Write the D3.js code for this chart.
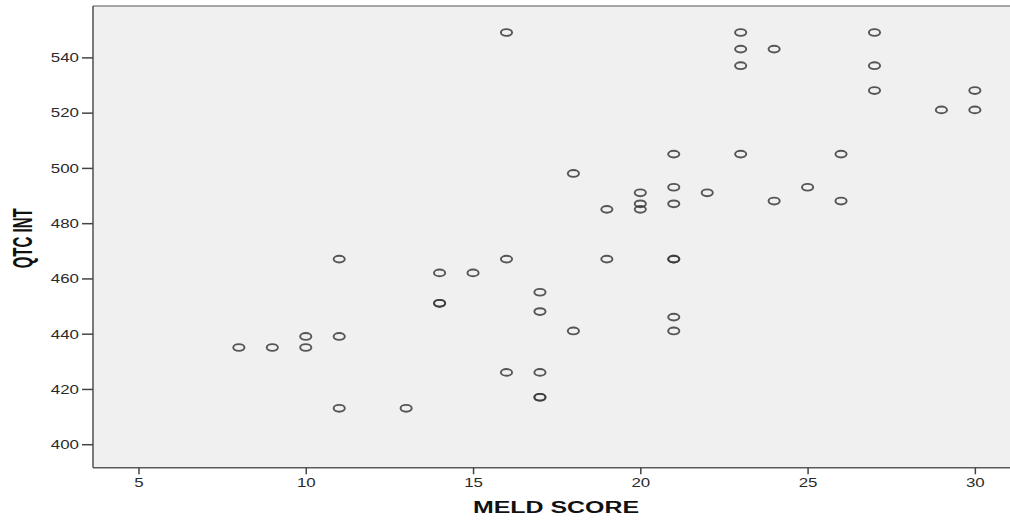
<!DOCTYPE html>
<html>
<head>
<meta charset="utf-8">
<script src="https://cdn.jsdelivr.net/npm/d3@7"></script>
<style>
  body { margin: 0; background: #fff; }
  svg { display: block; }
</style>
</head>
<body>
<svg id="chart" width="1010" height="520"></svg>
<script>
// MELD score vs QTc interval, one entry per patient
const meld = [8, 9, 10, 10, 11, 11, 11, 13, 14, 14, 14, 15,
  16, 16, 16, 17, 17, 17, 17, 17, 18, 18, 19, 19,
  20, 20, 20, 21, 21, 21, 21, 21, 21, 21, 22,
  23, 23, 23, 23, 24, 24, 25, 26, 26, 27, 27, 27, 29, 30, 30];
const qtc = [435, 435, 439, 435, 467, 439, 413, 413, 462, 451, 451, 462,
  549, 467, 426, 455, 448, 426, 417, 417, 498, 441, 485, 467,
  491, 487, 485, 505, 493, 487, 467, 467, 446, 441, 491,
  549, 543, 537, 505, 543, 488, 493, 505, 488, 549, 537, 528, 521, 528, 521];
const xTicks = [5, 10, 15, 20, 25, 30];
const yTicks = [400, 420, 440, 460, 480, 500, 520, 540];

const svg = d3.select('#chart');
const pLeft = 93, pTop = 6, pRight = 1015, pBottom = 467.7;

const x = d3.scaleLinear().domain([3.64, 31.2]).range([pLeft, pRight]);
const y = d3.scaleLinear().domain([391.5, 558.6]).range([pBottom, pTop]);

// plot background + top border
svg.append('rect')
  .attr('x', pLeft).attr('y', pTop)
  .attr('width', pRight - pLeft).attr('height', pBottom - pTop)
  .attr('fill', '#f0f0f0');
svg.append('line')
  .attr('x1', pLeft).attr('x2', pRight)
  .attr('y1', pTop).attr('y2', pTop)
  .attr('stroke', '#8a8a8a').attr('stroke-width', 1.5);

const stretch = (sel, k) => sel.each(function () {
  const len = this.getComputedTextLength();
  d3.select(this).attr('textLength', len * k).attr('lengthAdjust', 'spacingAndGlyphs');
});

const xAxis = svg.append('g')
  .attr('transform', `translate(0,${pBottom})`)
  .call(d3.axisBottom(x).tickValues(xTicks).tickSize(6.6).tickPadding(3).tickSizeOuter(0));

const yAxis = svg.append('g')
  .attr('transform', `translate(${pLeft},0)`)
  .call(d3.axisLeft(y).tickValues(yTicks).tickSize(11).tickPadding(3).tickSizeOuter(0));

[xAxis, yAxis].forEach(a => {
  a.select('.domain').attr('stroke', '#5a5a5a').attr('stroke-width', 1.6);
  a.selectAll('.tick line').attr('stroke', '#444').attr('stroke-width', 1.5);
  a.selectAll('.tick text')
    .attr('fill', '#2a2a2a')
    .style('font-family', '"Liberation Sans", Arial, sans-serif')
    .style('font-size', '13.5px')
    .call(stretch, 1.25);
});
// make the axis lines span the full frame
xAxis.select('.domain').attr('d', `M${pLeft},0H${pRight}`);
yAxis.select('.domain').attr('d', `M0,${pTop}V${pBottom}`);

// points
svg.append('g')
  .selectAll('ellipse')
  .data(meld.map((m, i) => ({m, q: qtc[i]})))
  .join('ellipse')
  .attr('cx', d => x(d.m))
  .attr('cy', d => y(d.q))
  .attr('rx', 5.6)
  .attr('ry', 3.4)
  .attr('fill', 'none')
  .attr('stroke', '#3a3a3a')
  .attr('stroke-opacity', 0.85)
  .attr('stroke-width', 1.9);

// axis titles
svg.append('text')
  .attr('x', 556).attr('y', 513)
  .attr('text-anchor', 'middle')
  .attr('textLength', 166).attr('lengthAdjust', 'spacingAndGlyphs')
  .style('font-family', '"Liberation Sans", Arial, sans-serif')
  .style('font-weight', 'bold')
  .style('font-size', '16px')
  .attr('fill', '#111')
  .text('MELD SCORE');

svg.append('text')
  .attr('transform', 'translate(31.5,238.3) scale(1.55,1) rotate(-90)')
  .attr('text-anchor', 'middle')
  .attr('textLength', 60).attr('lengthAdjust', 'spacingAndGlyphs')
  .style('font-family', '"Liberation Sans Narrow", "Liberation Sans", Arial, sans-serif')
  .style('font-weight', 'bold')
  .style('font-size', '18px')
  .attr('fill', '#111')
  .text('QTC INT');
</script>
</body>
</html>
